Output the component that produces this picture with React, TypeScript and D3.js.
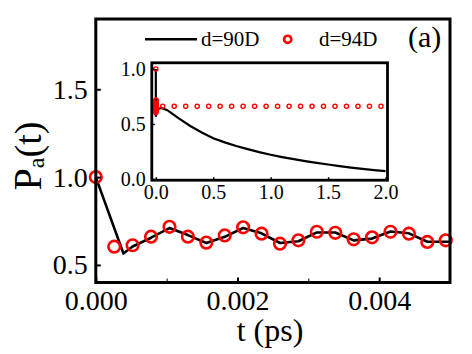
import React, { useEffect, useRef } from "react";
import * as d3 from "d3";

// main panel, d=94D (circles)
const tMain94 = [0, 0.00026, 0.00052, 0.00078, 0.00104, 0.0013, 0.00156, 0.00182, 0.00208, 0.00234,
  0.0026, 0.00286, 0.00312, 0.00338, 0.00364, 0.0039, 0.00416, 0.00442, 0.00468, 0.00494];
const pMain94 = [1.0, 0.604, 0.612, 0.661, 0.717, 0.661, 0.627, 0.668, 0.714, 0.678,
  0.621, 0.64, 0.689, 0.683, 0.646, 0.657, 0.689, 0.678, 0.631, 0.64];

// main panel, d=90D (line)
const tMain90 = [0, 0.00039, 0.00052, 0.00078, 0.00104, 0.0013, 0.00156, 0.00182, 0.00208, 0.00234,
  0.0026, 0.00286, 0.00312, 0.00338, 0.00364, 0.0039, 0.00416, 0.00442, 0.00468, 0.00494, 0.005];
const pMain90 = [1.0, 0.565, 0.605, 0.655, 0.71, 0.67, 0.625, 0.66, 0.71, 0.68,
  0.625, 0.635, 0.685, 0.685, 0.64, 0.65, 0.69, 0.68, 0.632, 0.632, 0.632];

// inset, long-time part
const tInset94 = [0.06, 0.16, 0.26, 0.36, 0.46, 0.56, 0.66, 0.76, 0.86, 0.96,
  1.06, 1.16, 1.26, 1.36, 1.46, 1.56, 1.66, 1.76, 1.86, 1.96];
const pInset94 = [0.66, 0.66, 0.66, 0.66, 0.66, 0.66, 0.66, 0.66, 0.66, 0.66,
  0.66, 0.66, 0.66, 0.66, 0.66, 0.66, 0.66, 0.66, 0.66, 0.66];
const tInset90 = [0.05, 0.1, 0.2, 0.3, 0.4, 0.5, 0.6, 0.7, 0.8, 0.9, 1.0,
  1.1, 1.2, 1.3, 1.4, 1.5, 1.6, 1.7, 1.8, 1.9, 2.0];
const pInset90 = [0.645, 0.625, 0.551, 0.482, 0.422, 0.37, 0.333, 0.3, 0.271, 0.244, 0.22,
  0.199, 0.18, 0.162, 0.146, 0.132, 0.117, 0.104, 0.092, 0.081, 0.072];

const mainXTicks = [0, 0.002, 0.004];
const mainXMinor = [0.001, 0.003];
const mainYTicks = [0.5, 1.0, 1.5];
const insetXTicks = [0.0, 0.5, 1.0, 1.5, 2.0];
const insetYTicks = [0.0, 0.5, 1.0];

const legendLabels = ["d=90D", "d=94D"];
const panelLabel = "(a)";

const W = 472;
const H = 354;
const FONT = "'Liberation Serif', 'Times New Roman', serif";
const RED = "#ff0000";

function Chart() {
  const ref = useRef<SVGSVGElement>(null);

  useEffect(() => {
    const svg = d3.select(ref.current);
    svg.selectAll("*").remove();

    // ---- main panel
    const x = d3.scaleLinear().domain([0, 0.005]).range([95.8, 450]);
    const y = d3.scaleLinear().domain([0.4, 1.9]).range([282.5, 19]);

    const main = svg.append("g");

    const line90 = d3.line<number>()
      .x((_, i) => x(tMain90[i]))
      .y(d => y(d));
    main.append("path")
      .attr("d", line90(pMain90))
      .attr("fill", "none")
      .attr("stroke", "#000")
      .attr("stroke-width", 2.6)
      .attr("stroke-linejoin", "round");

    main.append("g").selectAll("circle")
      .data(pMain94)
      .join("circle")
      .attr("cx", (_, i) => x(tMain94[i]))
      .attr("cy", d => y(d))
      .attr("r", 5.8)
      .attr("fill", "none")
      .attr("stroke", RED)
      .attr("stroke-width", 2.6);

    // axes (inward ticks)
    const xAxis = main.append("g")
      .attr("transform", `translate(0,${y.range()[0]})`)
      .call(d3.axisBottom(x).tickValues(mainXTicks).tickSizeInner(-5).tickSizeOuter(0)
        .tickPadding(12).tickFormat(d3.format(".3f")));
    main.append("g")
      .attr("transform", `translate(0,${y.range()[0]})`)
      .call(d3.axisBottom(x).tickValues(mainXMinor).tickSizeInner(-4).tickSizeOuter(0)
        .tickFormat(() => ""))
      .call(g => g.select(".domain").remove());
    const yAxis = main.append("g")
      .attr("transform", `translate(${x.range()[0]},0)`)
      .call(d3.axisLeft(y).tickValues(mainYTicks).tickSizeInner(-5).tickSizeOuter(0)
        .tickPadding(8).tickFormat(d3.format(".1f")));
    [xAxis, yAxis].forEach(g => {
      g.select(".domain").remove();
      g.selectAll("line").attr("stroke-width", 2);
      g.selectAll("text").attr("font-family", FONT).attr("font-size", 28).attr("fill", "#000");
    });
    xAxis.selectAll("text").attr("dy", "0.71em").attr("y", 8);

    main.append("rect")
      .attr("x", x.range()[0]).attr("y", y.range()[1])
      .attr("width", x.range()[1] - x.range()[0])
      .attr("height", y.range()[0] - y.range()[1])
      .attr("fill", "none").attr("stroke", "#000").attr("stroke-width", 3);

    // axis titles
    main.append("text")
      .attr("x", 270).attr("y", 341)
      .attr("text-anchor", "middle")
      .attr("font-family", FONT).attr("font-size", 32)
      .text("t (ps)");
    const yt = main.append("text")
      .attr("transform", "translate(41,156) rotate(-90)")
      .attr("text-anchor", "middle")
      .attr("font-family", FONT).attr("font-size", 40);
    yt.append("tspan").text("P");
    yt.append("tspan").attr("font-size", 24).attr("dy", 3).text("a");
    yt.append("tspan").attr("dy", -3).attr("font-size", 38).text("(t)");

    // legend
    const lg = main.append("g").attr("font-family", FONT).attr("font-size", 21);
    lg.append("line").attr("x1", 145).attr("x2", 197).attr("y1", 39.3).attr("y2", 39.3)
      .attr("stroke", "#000").attr("stroke-width", 2.6);
    lg.append("text").attr("x", 201).attr("y", 46).text(legendLabels[0]);
    lg.append("circle").attr("cx", 287.7).attr("cy", 39.3).attr("r", 3.6)
      .attr("fill", "none").attr("stroke", RED).attr("stroke-width", 2.6);
    lg.append("text").attr("x", 319).attr("y", 46).text(legendLabels[1]);
    main.append("text").attr("x", 408).attr("y", 47)
      .attr("font-family", FONT).attr("font-size", 30).text(panelLabel);

    // ---- inset
    const ix = d3.scaleLinear().domain([-0.035, 2.017]).range([151.8, 387.5]);
    const iy = d3.scaleLinear().domain([-0.011, 1.056]).range([180.2, 62.8]);
    const inset = svg.append("g");

    const insT90 = [...tMain90, ...tInset90];
    const insP90 = [...pMain90, ...pInset90];
    const iline = d3.line<number>()
      .x((_, i) => ix(insT90[i]))
      .y(d => iy(d));
    inset.append("path")
      .attr("d", iline(insP90))
      .attr("fill", "none")
      .attr("stroke", "#000")
      .attr("stroke-width", 2.2);

    const insT94 = [...tMain94, ...tInset94];
    const insP94 = [...pMain94, ...pInset94];
    inset.append("g").selectAll("circle")
      .data(insP94)
      .join("circle")
      .attr("cx", (_, i) => ix(insT94[i]))
      .attr("cy", d => iy(d))
      .attr("r", 2.1)
      .attr("fill", "none")
      .attr("stroke", RED)
      .attr("stroke-width", 1.4);

    const ixAxis = inset.append("g")
      .attr("transform", `translate(0,${iy.range()[0]})`)
      .call(d3.axisBottom(ix).tickValues(insetXTicks).tickSizeInner(-3).tickSizeOuter(0)
        .tickPadding(5).tickFormat(d3.format(".1f")));
    const iyAxis = inset.append("g")
      .attr("transform", `translate(${ix.range()[0]},0)`)
      .call(d3.axisLeft(iy).tickValues(insetYTicks).tickSizeInner(-3).tickSizeOuter(0)
        .tickPadding(6).tickFormat(d3.format(".1f")));
    [ixAxis, iyAxis].forEach(g => {
      g.select(".domain").remove();
      g.selectAll("line").attr("stroke-width", 1.5);
      g.selectAll("text").attr("font-family", FONT).attr("font-size", 20).attr("fill", "#000");
    });

    inset.append("rect")
      .attr("x", ix.range()[0]).attr("y", iy.range()[1])
      .attr("width", ix.range()[1] - ix.range()[0])
      .attr("height", iy.range()[0] - iy.range()[1])
      .attr("fill", "none").attr("stroke", "#000").attr("stroke-width", 2.8);
  }, []);

  return <svg ref={ref} width={W} height={H} style={{ position: "absolute", left: 0, top: 0, background: "#fff" }} />;
}

export default function App() {
  return <Chart />;
}
